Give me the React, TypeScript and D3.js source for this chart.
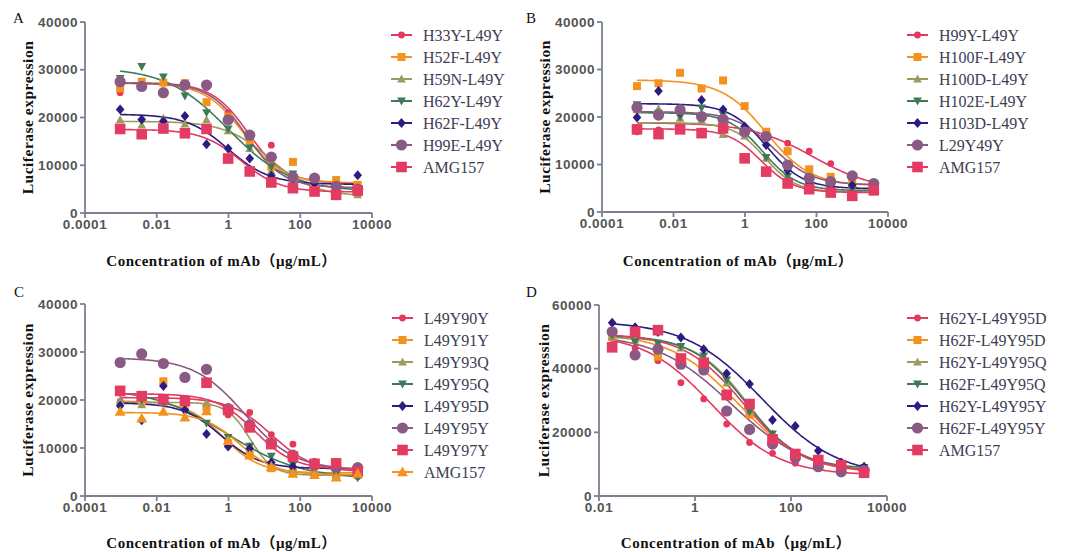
import * as d3 from "d3";

// concentrations (µg/mL): 4-fold series for A-C, 3-fold series for D
const concABC = [0.000954, 0.00381, 0.0153, 0.061, 0.244, 0.977, 3.91, 15.6, 62.5, 250, 1000, 4000];
const concD = [0.0188, 0.0565, 0.169, 0.508, 1.52, 4.57, 13.7, 41.2, 123, 370, 1111, 3333];

const ticksABC = [0.0001, 0.01, 1, 100, 10000];
const tickLabelsABC = ["0.0001", "0.01", "1", "100", "10000"];
const ticksD = [0.01, 1, 100, 10000];
const tickLabelsD = ["0.01", "1", "100", "10000"];
const yTicks40 = [0, 10000, 20000, 30000, 40000];
const yTicks60 = [0, 20000, 40000, 60000];

const RED = "#e4395f";
const ORANGE = "#f4921f";
const OLIVE = "#9c9a5e";
const GREEN = "#3f7a58";
const NAVY = "#2c1c80";
const MAUVE = "#8a5a84";
const PINK = "#e33b62";

// ---- panel A
const namesA = ["H33Y-L49Y", "H52F-L49Y", "H59N-L49Y", "H62Y-L49Y", "H62F-L49Y", "H99E-L49Y", "AMG157"];
const valuesA = [
  [25200, 27000, 27300, 27000, 26300, 21000, 16500, 14200, 8000, 6800, 6300, 5800],
  [26100, 27500, 27300, 27200, 23200, 20200, 15300, 9700, 10700, 6500, 6900, 5900],
  [19500, 18400, 19800, 18600, 19500, 17200, 13500, 8800, 7000, 5600, 4800, 3800],
  [28200, 30700, 28500, 24500, 21000, 17600, 13700, 9700, 8200, 6400, 5500, 4500],
  [21700, 19600, 19200, 20300, 14400, 13500, 11400, 7800, 7000, 6200, 5600, 7900],
  [27500, 26500, 25200, 26800, 26800, 19500, 16300, 11700, 7500, 7300, 5600, 5000],
  [17600, 16500, 17700, 16700, 17600, 11400, 8700, 6400, 5200, 4500, 3800, 4700],
];
// fitted 4PL: top, bottom, logEC50, hill
const fitsA = [
  [27300, 6200, 0.55, 0.85],
  [27200, 6300, 0.42, 0.8],
  [19200, 3500, 1.15, 0.7],
  [30500, 4500, 0, 0.5],
  [20700, 6000, 0, 0.75],
  [27200, 5300, 0.5, 0.85],
  [17500, 4400, 0.35, 0.8],
];

// ---- panel B
const namesB = ["H99Y-L49Y", "H100F-L49Y", "H100D-L49Y", "H102E-L49Y", "H103D-L49Y", "L29Y49Y", "AMG157"];
const valuesB = [
  [16900, 17300, 17600, 17000, 17500, 16500, 15800, 14500, 12800, 10200, 7600, 6000],
  [26500, 27100, 29300, 26000, 27700, 22300, 16900, 12800, 9000, 7400, 6000, 5200],
  [21500, 21700, 19700, 19300, 16300, 16000, 11300, 7300, 5400, 4600, 4300, 4200],
  [22600, 20800, 20000, 21900, 20500, 17000, 11500, 7500, 5600, 5000, 4700, 4500],
  [19900, 25500, 21000, 23600, 21600, 18000, 14100, 8800, 6200, 5500, 5700, 5000],
  [22000, 20400, 21500, 20100, 19500, 16900, 15900, 9900, 7100, 6400, 7600, 6000],
  [17400, 16400, 17400, 16600, 17600, 11300, 8500, 6000, 4800, 4100, 3400, 4600],
];
const fitsB = [
  [18800, 4500, 1.9, 0.5],
  [27800, 5500, 0.6, 0.7],
  [18800, 4200, 0.55, 1.0],
  [20900, 4500, 0.5, 0.9],
  [22800, 4900, 0.6, 0.85],
  [21100, 5700, 0.8, 0.8],
  [17500, 4100, 0.45, 0.95],
];

// ---- panel C
const namesC = ["L49Y90Y", "L49Y91Y", "L49Y93Q", "L49Y95Q", "L49Y95D", "L49Y95Y", "L49Y97Y", "AMG157"];
const valuesC = [
  [19700, 19400, 20200, 19900, 18900, 16900, 17400, 12800, 10800, 7200, 5600, 4000],
  [22100, 19700, 23900, 19300, 18500, 11000, 8600, 5800, 5100, 4400, 4000, 4500],
  [19900, 19000, 19500, 19600, 19300, 17900, 10300, 7000, 5500, 5000, 4500, 4300],
  [21500, 20000, 19200, 17500, 15200, 12200, 10400, 8300, 6500, 5500, 4600, 3800],
  [18800, 15800, 22900, 17900, 12900, 10300, 9900, 7000, 6100, 6000, 5600, 5500],
  [27800, 29600, 27600, 24700, 26400, 18200, 14800, 11000, 8500, 6400, 5800, 5900],
  [21900, 20800, 20100, 19800, 23600, 17900, 14300, 10800, 8200, 6700, 6800, 5100],
  [17600, 16200, 17600, 16400, 17700, 11500, 8500, 6100, 4700, 4400, 3900, 4700],
];
const fitsC = [
  [20500, 5000, 1.2, 0.75],
  [19800, 4800, -0.15, 0.85],
  [19500, 4300, 0.6, 1.35],
  [22500, 3500, -0.05, 0.42],
  [19400, 5700, -0.2, 0.8],
  [28800, 5400, 0.45, 0.62],
  [21300, 5500, 0.75, 0.8],
  [17400, 4400, 0.3, 0.85],
];

// ---- panel D
const namesD = ["H62Y-L49Y95D", "H62F-L49Y95D", "H62Y-L49Y95Q", "H62F-L49Y95Q", "H62Y-L49Y95Y", "H62F-L49Y95Y", "AMG157"];
const valuesD = [
  [49500, 46500, 42500, 35600, 30500, 22600, 16800, 13400, 10300, 9000, 8000, 7500],
  [50000, 52000, 43800, 43200, 41000, 32200, 25500, 17500, 12500, 10000, 8500, 7200],
  [50000, 49000, 48000, 46500, 43500, 35500, 27000, 19500, 13500, 10800, 9000, 8500],
  [50500, 48500, 48000, 47000, 44000, 36500, 26500, 19500, 13000, 10500, 9200, 9000],
  [54400, 53000, 51500, 49800, 46100, 38500, 35200, 23900, 22000, 14200, 10500, 9200],
  [51600, 44300, 46100, 41400, 39600, 26700, 20900, 16300, 12000, 9200, 7600, 8000],
  [46700, 51600, 52100, 43200, 41900, 31700, 28900, 17800, 13200, 11300, 9700, 7300],
];
const fitsD = [
  [51000, 6500, 0.35, 0.62],
  [51000, 7000, 0.9, 0.62],
  [50000, 8000, 1.1, 0.8],
  [50500, 8500, 1.05, 0.78],
  [55000, 6000, 1.4, 0.55],
  [51000, 7000, 0.75, 0.55],
  [51000, 7500, 1.0, 0.7],
];

const colors7 = [RED, ORANGE, OLIVE, GREEN, NAVY, MAUVE, PINK];
const shapes7 = ["c", "s", "tu", "td", "d", "C", "S"];
const colorsC = [RED, ORANGE, OLIVE, GREEN, NAVY, MAUVE, PINK, ORANGE];
const shapesC = ["c", "s", "tu", "td", "d", "C", "S", "T"];

const AXIS = "#7c7f90";
const TICK_TEXT = "#555555";
const LEGEND_TEXT = "#3d3d52";
const SERIF = "'Liberation Serif', 'Times New Roman', 'Noto Sans CJK SC', serif";
const SANS = "'Liberation Sans', Arial, sans-serif";

function fourPL(f: number[], x: number) {
  const [top, bottom, logEC50, hill] = f;
  return bottom + (top - bottom) / (1 + Math.pow(10, (Math.log10(x) - logEC50) * hill));
}

function Marker({ shape, x, y, color }: { shape: string; x: number; y: number; color: string }) {
  switch (shape) {
    case "c":
      return <circle cx={x} cy={y} r={3.4} fill={color} />;
    case "C":
      return <circle cx={x} cy={y} r={5.6} fill={color} />;
    case "s":
      return <rect x={x - 4} y={y - 4} width={8} height={8} fill={color} />;
    case "S":
      return <rect x={x - 5.3} y={y - 5.3} width={10.6} height={10.6} fill={color} />;
    case "tu":
      return <path d={`M${x},${y - 4.6}L${x + 4.4},${y + 3.4}L${x - 4.4},${y + 3.4}Z`} fill={color} />;
    case "T":
      return <path d={`M${x},${y - 5.6}L${x + 5.4},${y + 4.2}L${x - 5.4},${y + 4.2}Z`} fill={color} />;
    case "td":
      return <path d={`M${x},${y + 4.6}L${x + 4.4},${y - 3.4}L${x - 4.4},${y - 3.4}Z`} fill={color} />;
    default:
      return <path d={`M${x},${y - 5}L${x + 4.3},${y}L${x},${y + 5}L${x - 4.3},${y}Z`} fill={color} />;
  }
}

type PanelProps = {
  letter: string;
  letterX: number;
  letterY: number;
  ax: number;
  ayTop: number;
  ayBottom: number;
  axRight: number;
  legendX: number;
  legendY: number;
  yLabelX: number;
  titleY: number;
  xDomain: [number, number];
  xTicks: number[];
  xTickLabels: string[];
  yTicks: number[];
  conc: number[];
  names: string[];
  values: number[][];
  fits: number[][];
  colors: string[];
  shapes: string[];
};

function Panel(p: PanelProps) {
  const x = d3.scaleLog().domain(p.xDomain).range([p.ax, p.axRight]);
  const yMax = p.yTicks[p.yTicks.length - 1];
  const y = d3.scaleLinear().domain([0, yMax]).range([p.ayBottom, p.ayTop]);
  const lo = Math.log10(p.conc[0]);
  const hi = Math.log10(p.conc[p.conc.length - 1]);
  const samples = d3.range(0, 201).map((i) => Math.pow(10, lo + ((hi - lo) * i) / 200));
  const midX = (p.ax + p.axRight) / 2 - 7;
  const midY = (p.ayTop + p.ayBottom) / 2;

  return (
    <g>
      <text x={p.letterX} y={p.letterY} fontFamily={SERIF} fontSize={15} fill="#111">
        {p.letter}
      </text>
      {/* axes */}
      <line x1={p.ax} x2={p.ax} y1={p.ayBottom} y2={p.ayTop} stroke={AXIS} strokeWidth={1.8} />
      <line x1={p.ax} x2={p.axRight} y1={p.ayBottom} y2={p.ayBottom} stroke={AXIS} strokeWidth={1.8} />
      {p.yTicks.map((t) => (
        <g key={"y" + t}>
          <line x1={p.ax - 5} x2={p.ax} y1={y(t)} y2={y(t)} stroke={AXIS} strokeWidth={1.8} />
          <text
            x={p.ax - 7}
            y={y(t)}
            dy="0.34em"
            textAnchor="end"
            fontFamily={SANS}
            fontWeight="bold"
            fontSize={13.5}
            letterSpacing={0.5}
            fill={TICK_TEXT}
          >
            {t}
          </text>
        </g>
      ))}
      {p.xTicks.map((t, i) => (
        <g key={"x" + t}>
          <line x1={x(t)} x2={x(t)} y1={p.ayBottom} y2={p.ayBottom + 5} stroke={AXIS} strokeWidth={1.8} />
          <text
            x={x(t)}
            y={p.ayBottom + 16}
            textAnchor="middle"
            fontFamily={SANS}
            fontWeight="bold"
            fontSize={13.5}
            letterSpacing={0.5}
            fill={TICK_TEXT}
          >
            {p.xTickLabels[i]}
          </text>
        </g>
      ))}
      <text
        transform={`translate(${p.yLabelX},${midY}) rotate(-90)`}
        textAnchor="middle"
        dy="0.35em"
        fontFamily={SERIF}
        fontWeight="bold"
        fontSize={15.5}
        letterSpacing={0.5}
        fill="#111"
      >
        Luciferase expression
      </text>
      <text
        x={midX}
        y={p.titleY}
        textAnchor="middle"
        fontFamily={SERIF}
        fontWeight="bold"
        fontSize={15}
        letterSpacing={0.5}
        fill="#111"
      >
        Concentration of mAb（μg/mL）
      </text>
      {/* fitted curves */}
      {p.fits.map((f, i) => {
        const line = d3
          .line<number>()
          .x((c) => x(c))
          .y((c) => y(fourPL(f, c)));
        return (
          <path key={"f" + i} d={line(samples) || ""} fill="none" stroke={p.colors[i]} strokeWidth={1.6} />
        );
      })}
      {/* data points */}
      {p.values.map((vals, i) => (
        <g key={"p" + i}>
          {vals.map((v, j) => (
            <Marker key={j} shape={p.shapes[i]} x={x(p.conc[j])} y={y(v)} color={p.colors[i]} />
          ))}
        </g>
      ))}
      {/* legend */}
      {p.names.map((n, i) => {
        const ly = p.legendY + i * 22;
        return (
          <g key={"l" + i}>
            <line x1={p.legendX} x2={p.legendX + 21} y1={ly} y2={ly} stroke={p.colors[i]} strokeWidth={2} />
            <Marker shape={p.shapes[i]} x={p.legendX + 10.5} y={ly} color={p.colors[i]} />
            <text x={p.legendX + 32} y={ly} dy="0.35em" fontFamily={SERIF} fontSize={16} fill={LEGEND_TEXT}>
              {n}
            </text>
          </g>
        );
      })}
    </g>
  );
}

export default function App() {
  return (
    <svg
      width={1065}
      height={552}
      style={{ position: "absolute", left: 0, top: 0, background: "#fff" }}
    >
      <Panel
        letter="A" letterX={13} letterY={23}
        ax={85} ayTop={22} ayBottom={213} axRight={372}
        legendX={391} legendY={35} yLabelX={28} titleY={266}
        xDomain={[0.0001, 10000]} xTicks={ticksABC} xTickLabels={tickLabelsABC} yTicks={yTicks40}
        conc={concABC} names={namesA} values={valuesA} fits={fitsA} colors={colors7} shapes={shapes7}
      />
      <Panel
        letter="B" letterX={526} letterY={23}
        ax={602} ayTop={22} ayBottom={212} axRight={888}
        legendX={907} legendY={35} yLabelX={545} titleY={266}
        xDomain={[0.0001, 10000]} xTicks={ticksABC} xTickLabels={tickLabelsABC} yTicks={yTicks40}
        conc={concABC} names={namesB} values={valuesB} fits={fitsB} colors={colors7} shapes={shapes7}
      />
      <Panel
        letter="C" letterX={14} letterY={297}
        ax={85} ayTop={304} ayBottom={496} axRight={372}
        legendX={392} legendY={318} yLabelX={28} titleY={548}
        xDomain={[0.0001, 10000]} xTicks={ticksABC} xTickLabels={tickLabelsABC} yTicks={yTicks40}
        conc={concABC} names={namesC} values={valuesC} fits={fitsC} colors={colorsC} shapes={shapesC}
      />
      <Panel
        letter="D" letterX={526} letterY={297}
        ax={599} ayTop={305} ayBottom={496} axRight={887}
        legendX={907} legendY={318} yLabelX={544} titleY={548}
        xDomain={[0.01, 10000]} xTicks={ticksD} xTickLabels={tickLabelsD} yTicks={yTicks60}
        conc={concD} names={namesD} values={valuesD} fits={fitsD} colors={colors7} shapes={shapes7}
      />
    </svg>
  );
}
